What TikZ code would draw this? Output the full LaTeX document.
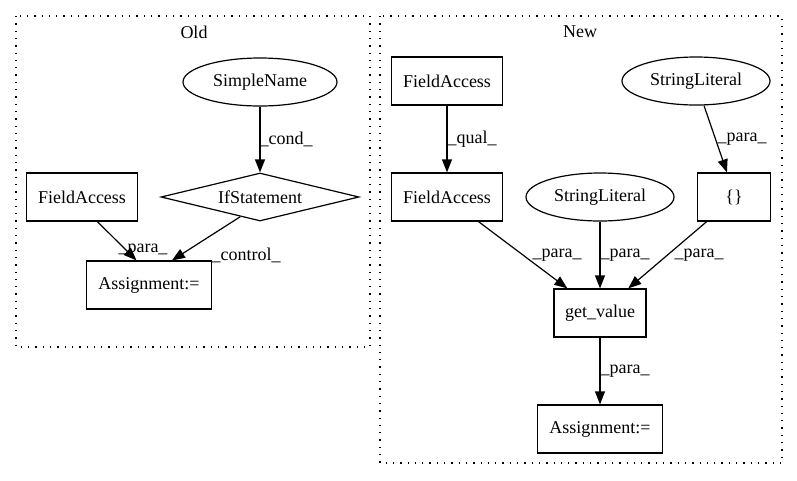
\documentclass[tikz,border=0pt]{standalone}
\usepackage{fontspec}
\setmainfont{Liberation Serif}
\usetikzlibrary{arrows.meta,shapes.geometric}
\begin{document}
\begin{tikzpicture}[x=1pt,y=-1pt,
  every node/.style={font=\fontsize{18}{21}\selectfont},
  box/.style={draw,line width=1.2pt,rectangle,inner sep=0pt,minimum height=48pt},
  ell/.style={draw,line width=1.2pt,ellipse,inner sep=0pt,minimum height=48pt},
  dia/.style={draw,line width=1.2pt,diamond,shape aspect=4.1,inner sep=0pt,minimum width=198pt,minimum height=48pt},
  cluster/.style={line width=1.2pt,dash pattern=on 1.3pt off 6pt},
  lbl/.style={inner sep=0pt,anchor=center},
  arr/.style={line width=1.2pt,-{Triangle[length=13pt,width=10pt]}}]
\useasboundingbox (0,0) rectangle (797,480);
% clusters
\draw[cluster] (16,16) rectangle (370,347);
\draw[cluster] (380,16) rectangle (782,463);
\node[lbl] (oldlbl) at (194,32) {Old};
\node[lbl] (newlbl) at (580,32) {New};
% Old
\node[ell,minimum width=154pt] (sn) at (260,82) {SimpleName};
\node[dia] (ifs) at (260,197) {IfStatement};
\node[box,minimum width=111pt] (fao) at (82,197) {FieldAccess};
\node[box,minimum width=125pt] (aso) at (149,285) {Assignment:=};
\draw[arr] (sn.south) -- (ifs.north);
\draw[arr] (fao.-58) -- (aso.117);
\draw[arr] (ifs.225) -- (aso.47);
\node[lbl] (l1) at (286,139) {\_cond\_};
\node[lbl] (l2) at (143,250) {\_para\_};
\node[lbl] (l3) at (246,255) {\_control\_};
% New
\node[box,minimum width=111pt] (fa1) at (447,81) {FieldAccess};
\node[ell,minimum width=148pt] (sl1) at (696,81) {StringLiteral};
\node[box,minimum width=111pt] (fa2) at (447,197) {FieldAccess};
\node[ell,minimum width=148pt] (sl2) at (600,197) {StringLiteral};
\node[box,minimum width=73pt] (br) at (734,197) {\{\}};
\node[box,minimum width=92pt] (gv) at (600,313) {get\_value};
\node[box,minimum width=125pt] (asn) at (600,429) {Assignment:=};
\draw[arr] (fa1.south) -- (fa2.north);
\draw[arr] (sl1.-72) -- (br.106);
\draw[arr] (fa2.-38) -- (gv.143);
\draw[arr] (sl2.south) -- (gv.north);
\draw[arr] (br.222) -- (gv.41);
\draw[arr] (gv.south) -- (asn.north);
\node[lbl] (l4) at (472,139) {\_qual\_};
\node[lbl] (l5) at (742,139) {\_para\_};
\node[lbl] (l6) at (557,255) {\_para\_};
\node[lbl] (l7) at (625,255) {\_para\_};
\node[lbl] (l8) at (699,255) {\_para\_};
\node[lbl] (l9) at (625,371) {\_para\_};
\end{tikzpicture}
\end{document}
